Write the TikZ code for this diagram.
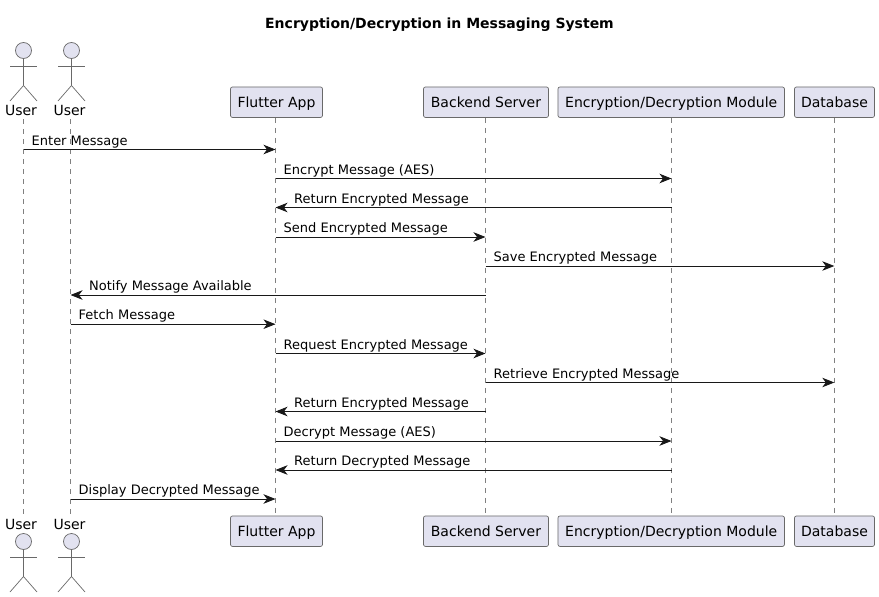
\documentclass[tikz,border=0pt]{standalone}
\usepackage{fontspec}
\setmainfont{DejaVu Sans}
\usetikzlibrary{positioning,arrows.meta}
\definecolor{partfill}{HTML}{E2E2F0}
\definecolor{inkline}{HTML}{181818}
\tikzset{
  part/.style={draw=inkline!65,line width=0.7pt,fill=partfill,rounded corners=2pt,minimum height=30.5pt,
    inner xsep=0pt,inner ysep=0pt,text height=12.5pt,text depth=2pt,text=black,font=\fontsize{14}{16}\selectfont},
  actorname/.style={inner sep=0pt,text=black,font=\fontsize{14}{16}\selectfont},
  actorline/.style={draw=inkline!65,line width=0.7pt},
  actorhead/.style={draw=inkline!65,line width=0.7pt,fill=partfill,circle,minimum size=16pt,inner sep=0pt},
  lifeline/.style={draw=inkline!55,line width=0.6pt,dash pattern=on 5pt off 5pt},
  msg/.style={draw=inkline,line width=0.8pt,-{Stealth[length=12pt,width=9.5pt,inset=3.5pt]}},
  msglabel/.style={inner sep=0pt,anchor=base west,text=black,font=\fontsize{13}{15}\selectfont}
}
\begin{document}
\begin{tikzpicture}[x=1pt,y=-1pt]
  \useasboundingbox (0,0) rectangle (879,597);
  \node (title) at (439.5,24.5) {\fontsize{14}{16}\selectfont\bfseries Encryption/Decryption in Messaging System};
  % participants, top and bottom
  \foreach \name/\x/\w/\txt in {flutter/276.5/92/Flutter App,backend/486/125/Backend Server,
    crypto/671.2/226.5/{Encryption/Decryption Module},dbase/834.5/80/Database}{
    \node[part,minimum width=\w pt] (\name-top) at (\x,102.2) {\txt};
    \node[part,minimum width=\w pt] (\name-bot) at (\x,531.2) {\txt};
  }
  % actors
  \foreach \name/\x/\lx in {usera/23.5/21,userb/71.5/69.5}{
    \node[actorname] (\name-top) at (\lx,110) {User};
    \node[actorname] (\name-bot) at (\lx,524) {User};
    \node[actorhead] (\name-heada) at (\x,50.5) {};
    \node[actorhead] (\name-headb) at (\x,541.5) {};
    \draw[actorline] (\name-heada.south) -- (\x,85.5) -- (\x-13.5,101);
    \draw[actorline] (\x,85.5) -- (\x+13.5,101);
    \draw[actorline] (\x-13.5,66.5) -- (\x+13.5,66.5);
    \draw[actorline] (\name-headb.south) -- (\x,576.5) -- (\x-13.5,592);
    \draw[actorline] (\x,576.5) -- (\x+13.5,592);
    \draw[actorline] (\x-13.5,557.5) -- (\x+13.5,557.5);
  }
  % one coordinate per message on every lifeline
  \foreach \name/\x in {usera/23.5,userb/70.5,flutter/275.5,backend/485.5,crypto/671.5,dbase/834.3}
    \foreach \row/\y in {1/149.5,2/178.5,3/207.5,4/237,5/266,6/295,7/324.2,8/353.5,9/382.5,10/411.5,11/441,12/470,13/499}
      \coordinate (\name-\row) at (\x,\y);
  % lifelines
  \foreach \name in {usera,userb}
    \draw[lifeline] (\name-1 |- 0,119) -- (\name-1 |- 0,515);
  \foreach \name in {flutter,backend,crypto,dbase}
    \draw[lifeline] (\name-1 |- \name-top.south) -- (\name-1 |- \name-bot.north);
  % messages going right
  \foreach \from/\to/\row/\txt in {usera/flutter/1/Enter Message,flutter/crypto/2/Encrypt Message (AES),
    flutter/backend/4/Send Encrypted Message,backend/dbase/5/Save Encrypted Message,
    userb/flutter/7/Fetch Message,flutter/backend/8/Request Encrypted Message,
    backend/dbase/9/Retrieve Encrypted Message,flutter/crypto/11/Decrypt Message (AES),
    userb/flutter/13/Display Decrypted Message}{
    \draw[msg] (\from-\row) -- (\to-\row);
    \node[msglabel] (label-\row) at ([xshift=8pt,yshift=4.5pt]\from-\row) {\txt};
  }
  % messages going left
  \foreach \from/\to/\row/\txt in {crypto/flutter/3/Return Encrypted Message,backend/userb/6/Notify Message Available,
    backend/flutter/10/Return Encrypted Message,crypto/flutter/12/Return Decrypted Message}{
    \draw[msg] (\from-\row) -- (\to-\row);
    \node[msglabel] (label-\row) at ([xshift=18.5pt,yshift=4.5pt]\to-\row) {\txt};
  }
\end{tikzpicture}
\end{document}
